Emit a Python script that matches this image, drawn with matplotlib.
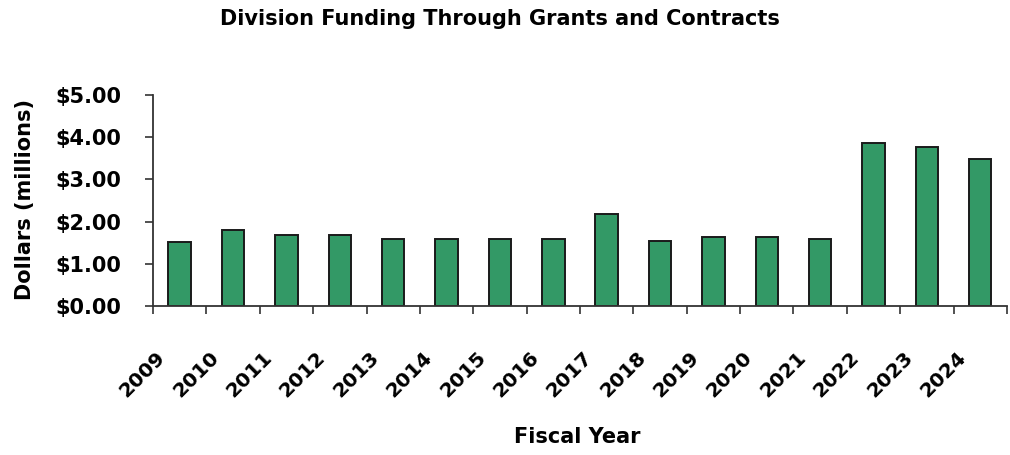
import numpy as np
import matplotlib.pyplot as plt
import matplotlib.transforms as mtransforms
from matplotlib.ticker import FuncFormatter, FixedLocator

plt.rcParams['font.family'] = ['DejaVu Sans']
plt.rcParams['font.weight'] = 'bold'

years = ['2009', '2010', '2011', '2012', '2013', '2014', '2015', '2016',
         '2017', '2018', '2019', '2020', '2021', '2022', '2023', '2024']
funding = [1.51, 1.79, 1.69, 1.69, 1.60, 1.60, 1.60, 1.60,
           2.19, 1.53, 1.64, 1.64, 1.60, 3.87, 3.77, 3.48]

fig = plt.figure(figsize=(10.1, 4.55), dpi=100)
ax = fig.add_axes([0.1515, 0.3275, 0.8455, 0.4635])

x = np.arange(len(years))
ax.bar(x, funding, width=0.42, color='#339966', edgecolor='#1a1a1a', linewidth=1.4)

ax.set_xlim(-0.5, len(years) - 0.5)
ax.set_ylim(0, 5)
ax.set_yticks(np.arange(0, 6, 1))
ax.yaxis.set_major_formatter(FuncFormatter(lambda v, p: f'${v:.2f}'))

# ticks sit between categories, labels under the bars
ax.xaxis.set_major_locator(FixedLocator(np.arange(-0.5, len(years), 1)))
ax.xaxis.set_major_formatter(FuncFormatter(lambda v, p: ''))
ax.xaxis.set_minor_locator(FixedLocator(x))
ax.set_xticklabels(years, minor=True, rotation=45, ha='right', va='top',
                   rotation_mode='anchor', fontsize=14.5, fontweight='bold')
ax.tick_params(axis='x', which='minor', length=0, pad=30)
ax.tick_params(axis='x', which='major', length=6, width=1.2, color='#333333')
ax.tick_params(axis='y', length=6, width=1.2, color='#333333', labelsize=15, pad=17)

shift = mtransforms.ScaledTranslation(-0.24, 0, fig.dpi_scale_trans)
for lbl in ax.get_xticklabels(minor=True):
    lbl.set_transform(lbl.get_transform() + shift)

for s in ['top', 'right']:
    ax.spines[s].set_visible(False)
for s in ['left', 'bottom']:
    ax.spines[s].set_color('#333333')
    ax.spines[s].set_linewidth(1.3)

fig.text(25 / 1010, 1 - 200 / 455, 'Dollars (millions)', rotation=90,
         ha='center', va='center', fontsize=15, fontweight='bold')
fig.text(577 / 1010, 1 - 437 / 455, 'Fiscal Year',
         ha='center', va='center', fontsize=15, fontweight='bold')
fig.text(500 / 1010, 1 - 19 / 455, 'Division Funding Through Grants and Contracts',
         ha='center', va='center', fontsize=15, fontweight='bold')

fig.savefig('out.png', dpi=100)
